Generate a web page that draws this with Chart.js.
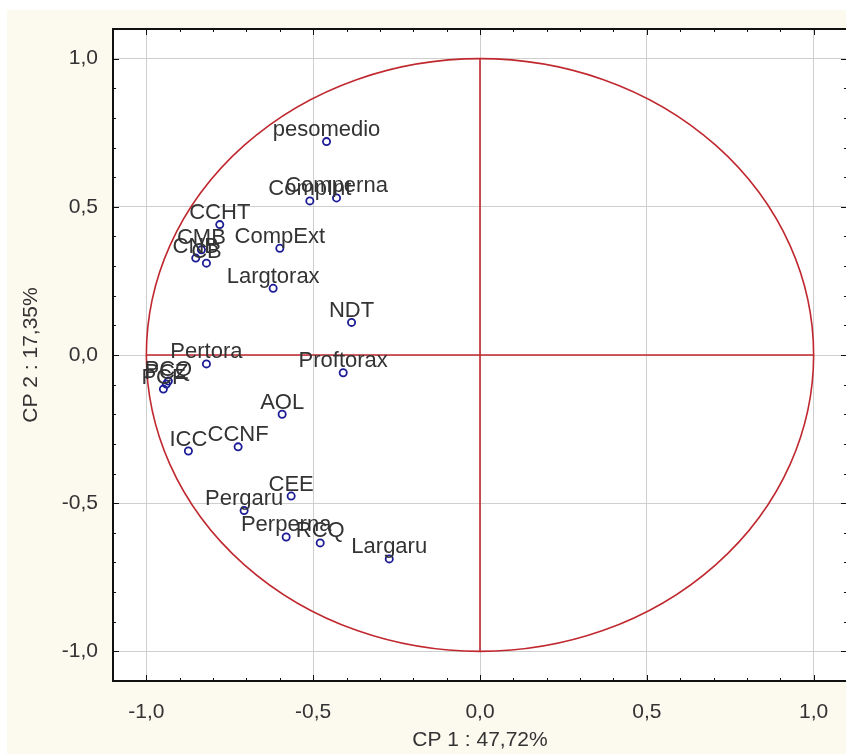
<!DOCTYPE html>
<html>
<head>
<meta charset="utf-8">
<script src="https://cdn.jsdelivr.net/npm/chart.js@4.4.1/dist/chart.umd.min.js"></script>
<style>
  html, body { margin: 0; padding: 0; background: #ffffff; overflow: hidden; }
  #wrap { position: absolute; left: 0; top: 0; width: 866px; height: 754px; }
</style>
</head>
<body>
<div id="wrap"><canvas id="pca_chart" width="866" height="754"></canvas></div>
<script>
// variables and their loadings on the first two components
var var_names = ["pesomedio", "Comperna", "CompInt", "CCHT", "CompExt", "CMB", "CNB", "CB",
                 "Largtorax", "NDT", "Pertora", "Proftorax", "PCQ", "PCF", "PCZ",
                 "AOL", "ICC", "CCNF", "CEE", "Pergaru", "Perperna", "RCQ", "Largaru"];
var cp1_values = [-0.46, -0.43, -0.51, -0.78, -0.60, -0.835, -0.852, -0.82,
                  -0.62, -0.385, -0.82, -0.41, -0.934, -0.949, -0.94,
                  -0.593, -0.874, -0.725, -0.566, -0.707, -0.581, -0.479, -0.272];
var cp2_values = [0.72, 0.53, 0.52, 0.44, 0.36, 0.355, 0.327, 0.31,
                  0.225, 0.11, -0.03, -0.06, -0.088, -0.115, -0.098,
                  -0.20, -0.324, -0.31, -0.476, -0.525, -0.614, -0.634, -0.688];

var x_title = "CP 1 : 47,72%";
var y_title = "CP 2 : 17,35%";
var axis_min = -1.1;
var axis_max = 1.1;

var circle_color = "#c0282f";
var point_color = "#1c1c96";
var cream = "#fcf9ef";
var text_color = "#333333";
var font_family = "'Liberation Sans', Arial, sans-serif";

function is_major(v) {
    return Math.abs(v * 2 - Math.round(v * 2)) < 1e-6;
}

function fmt_tick(v) {
    if (!is_major(v)) return "";
    return v.toFixed(1).replace(".", ",").replace("-0,0", "0,0");
}

var backgroundPlugin = {
    id: "background",
    beforeDraw: function(chart) {
        var ctx = chart.ctx, a = chart.chartArea;
        ctx.save();
        ctx.fillStyle = "#ffffff";
        ctx.fillRect(0, 0, chart.width, chart.height);
        ctx.fillStyle = cream;
        ctx.fillRect(7, 10, chart.width, chart.height);
        ctx.fillStyle = "#ffffff";
        ctx.fillRect(a.left, a.top, a.right - a.left, a.bottom - a.top);
        ctx.restore();
    }
};

// unit circle and the two axes through the origin
var circlePlugin = {
    id: "circle",
    beforeDatasetsDraw: function(chart) {
        var ctx = chart.ctx, xs = chart.scales.x, ys = chart.scales.y;
        var cx = xs.getPixelForValue(0), cy = ys.getPixelForValue(0);
        var rx = xs.getPixelForValue(1) - cx, ry = cy - ys.getPixelForValue(1);
        ctx.save();
        ctx.strokeStyle = circle_color;
        ctx.lineWidth = 1.6;
        ctx.beginPath();
        ctx.ellipse(cx, cy, rx, ry, 0, 0, Math.PI * 2);
        ctx.stroke();
        ctx.beginPath();
        ctx.moveTo(cx - rx, cy);
        ctx.lineTo(cx + rx, cy);
        ctx.moveTo(cx, cy - ry);
        ctx.lineTo(cx, cy + ry);
        ctx.stroke();
        ctx.restore();
    }
};

var labelPlugin = {
    id: "labels",
    afterDatasetsDraw: function(chart) {
        var ctx = chart.ctx, meta = chart.getDatasetMeta(0);
        ctx.save();
        ctx.font = "22px " + font_family;
        ctx.fillStyle = text_color;
        ctx.textAlign = "center";
        ctx.textBaseline = "alphabetic";
        meta.data.forEach(function(pt, i) {
            ctx.fillText(var_names[i], pt.x, pt.y - 5.5);
        });
        ctx.restore();
    }
};

// frame plus tick marks pointing inwards on all four sides
var framePlugin = {
    id: "frame",
    afterDraw: function(chart) {
        var ctx = chart.ctx, a = chart.chartArea, xs = chart.scales.x, ys = chart.scales.y;
        ctx.save();
        ctx.strokeStyle = "#111111";
        ctx.lineWidth = 1;
        ctx.beginPath();
        xs.ticks.forEach(function(t) {
            var px = Math.round(xs.getPixelForValue(t.value)) + 0.5;
            var len = is_major(t.value) ? 6 : 3;
            ctx.moveTo(px, a.bottom); ctx.lineTo(px, a.bottom - len);
            ctx.moveTo(px, a.top); ctx.lineTo(px, a.top + len);
        });
        ys.ticks.forEach(function(t) {
            var py = Math.round(ys.getPixelForValue(t.value)) + 0.5;
            var len = is_major(t.value) ? 6 : 3;
            ctx.moveTo(a.left, py); ctx.lineTo(a.left + len, py);
            ctx.moveTo(a.right, py); ctx.lineTo(a.right - len, py);
        });
        ctx.stroke();
        ctx.lineWidth = 2;
        ctx.strokeRect(a.left, a.top, a.right - a.left, a.bottom - a.top);
        ctx.restore();
    }
};

var ctx = document.getElementById("pca_chart");
var points = cp1_values.map(function(v, i) { return {x: v, y: cp2_values[i]}; });

new Chart(ctx, {
    type: "scatter",
    data: {
        datasets: [{
            data: points,
            pointStyle: "circle",
            pointRadius: 3.6,
            pointBorderWidth: 1.8,
            pointBorderColor: point_color,
            pointBackgroundColor: "rgba(255,255,255,0)"
        }]
    },
    options: {
        responsive: false,
        animation: false,
        layout: { padding: { left: 0, top: 29, right: 4, bottom: 0 } },
        plugins: {
            legend: { display: false },
            tooltip: { enabled: false }
        },
        scales: {
            x: {
                type: "linear",
                min: axis_min,
                max: axis_max,
                border: { display: false },
                grid: {
                    drawTicks: false,
                    color: function(c) { return is_major(c.tick.value) ? "#cfcfcf" : "rgba(0,0,0,0)"; },
                    lineWidth: 1
                },
                ticks: {
                    stepSize: 0.1,
                    autoSkip: false,
                    maxRotation: 0,
                    padding: 19,
                    color: text_color,
                    font: { family: font_family, size: 21 },
                    callback: fmt_tick
                },
                title: {
                    display: true,
                    text: x_title,
                    color: text_color,
                    font: { family: font_family, size: 21 },
                    padding: { top: 0, bottom: 1 }
                },
                afterFit: function(scale) { scale.height = 73; }
            },
            y: {
                type: "linear",
                min: axis_min,
                max: axis_max,
                border: { display: false },
                grid: {
                    drawTicks: false,
                    color: function(c) { return is_major(c.tick.value) ? "#cfcfcf" : "rgba(0,0,0,0)"; },
                    lineWidth: 1
                },
                ticks: {
                    stepSize: 0.1,
                    autoSkip: false,
                    padding: 15,
                    color: text_color,
                    font: { family: font_family, size: 21 },
                    callback: fmt_tick
                },
                title: {
                    display: true,
                    text: y_title,
                    color: text_color,
                    font: { family: font_family, size: 21 },
                    padding: { top: 19, bottom: 0 }
                },
                afterFit: function(scale) { scale.width = 113; }
            }
        }
    },
    plugins: [backgroundPlugin, circlePlugin, labelPlugin, framePlugin]
});
</script>
</body>
</html>
